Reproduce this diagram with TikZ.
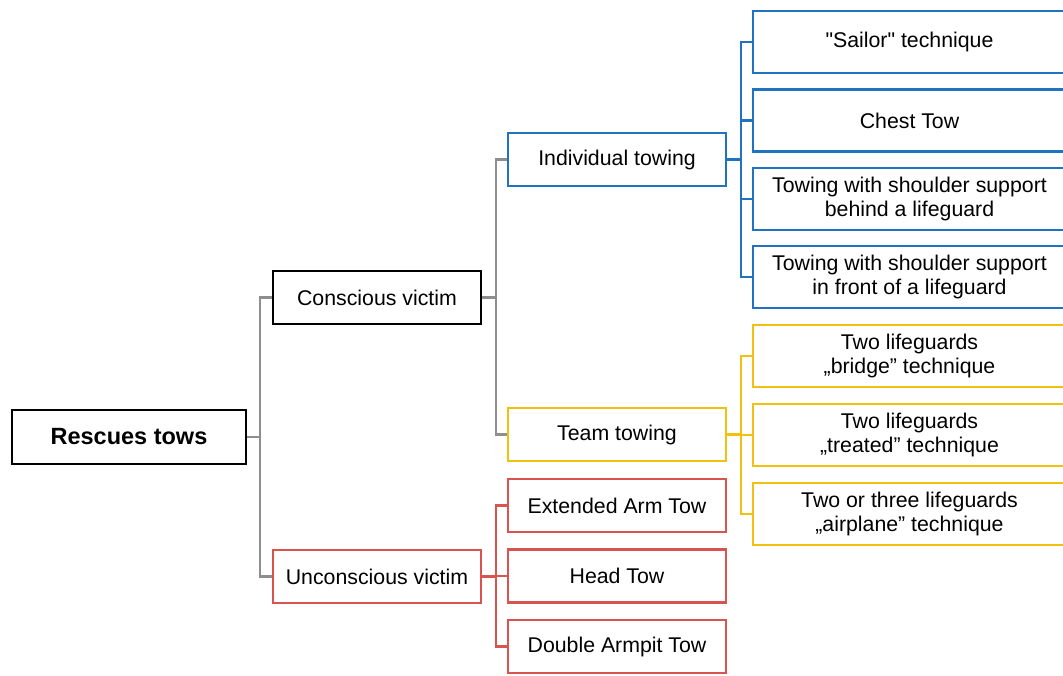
\documentclass[tikz,border=0pt]{standalone}
\usepackage{fontspec}
\setmainfont{Liberation Sans}[Ligatures=TeXOff]
\usetikzlibrary{positioning}
\definecolor{towblue}{HTML}{1F73C0}
\definecolor{towgold}{HTML}{F2C00F}
\definecolor{towred}{HTML}{D9534F}
\definecolor{towgray}{HTML}{8E8E8E}

\begin{document}
\begin{tikzpicture}[x=1pt,y=-1pt,
    box/.style={draw,line width=2.4pt,fill=white,align=center,inner sep=0pt,
      text=black,font=\fontsize{21.3}{24}\selectfont},
    midbox/.style={box,minimum width=208pt,minimum height=53pt},
    leafbox/.style={box,minimum width=313pt,minimum height=62pt},
    link/.style={line width=2.4pt}]
        \useasboundingbox(0,0)rectangle(1063,675);
        % root and first level
        \node[box,minimum width=234pt,minimum height=54pt,
          font=\fontsize{23.5}{26}\selectfont\bfseries](root)at(129,437){Rescues tows};
        \node[midbox](cons)at(377,297.5){Conscious victim};
        \node[midbox,draw=towred](uncons)at(377,576.5){Unconscious victim};
        % second level
        \node[midbox,minimum width=218pt,draw=towblue](indiv)at(617,159.5){Individual towing};
        \node[midbox,minimum width=218pt,draw=towgold](team)at(617,434.5){Team towing};
        \node[midbox,minimum width=218pt,draw=towred](ext)at(617,505.5){Extended Arm Tow};
        \node[midbox,minimum width=218pt,draw=towred](head)at(617,576){Head Tow};
        \node[midbox,minimum width=218pt,draw=towred](arm)at(617,646.5){Double Armpit Tow};
        % leaves
        \node[leafbox,draw=towblue](sail)at(909.5,42){"Sailor" technique};
        \node[leafbox,draw=towblue](chest)at(909.5,120.5){Chest Tow};
        \node[leafbox,draw=towblue](behind)at(909.5,199){Towing with shoulder support\\behind a lifeguard};
        \node[leafbox,draw=towblue](front)at(909.5,277){Towing with shoulder support\\in front of a lifeguard};
        \node[leafbox,draw=towgold](bridge)at(909.5,356){Two lifeguards\\„bridge” technique};
        \node[leafbox,draw=towgold](treat)at(909.5,435){Two lifeguards\\„treated” technique};
        \node[leafbox,draw=towgold](plane)at(909.5,514){Two or three lifeguards\\„airplane” technique};
        % connectors
        \foreach \c in {cons,uncons}{
          \draw[link,towgray](root.east)--++(13,0)|-(\c.west);}
        \foreach \c in {indiv,team}{
          \draw[link,towgray](cons.east)--++(13.5,0)|-(\c.west);}
        \foreach \c in {ext,head,arm}{
          \draw[link,towred](uncons.east)--++(13.5,0)|-(\c.west);}
        \foreach \c in {sail,chest,behind,front}{
          \draw[link,towblue](indiv.east)--++(13.5,0)|-(\c.west);}
        \foreach \c in {bridge,treat,plane}{
          \draw[link,towgold](team.east)--++(13.5,0)|-(\c.west);}
      \end{tikzpicture}
\end{document}
